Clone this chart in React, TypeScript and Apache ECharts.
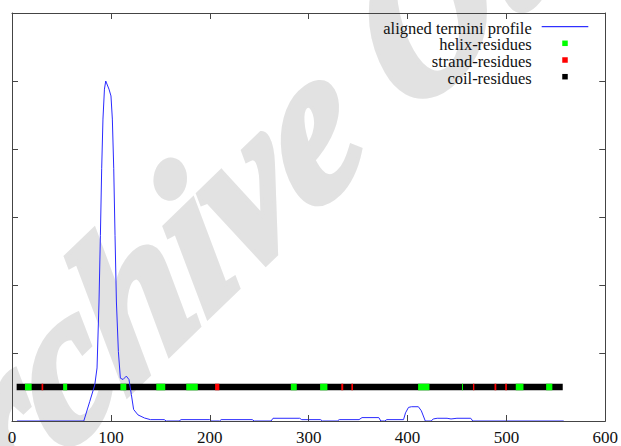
import React, { useEffect, useRef } from "react";
import * as echarts from "echarts";

// ---- data ----
const xTickInterval = 100;
const xMin = 0;
const xMax = 600;
const yMin = 0;
const yMax = 6;

const profileX = [
  5, 72.6, 78.7, 83.7, 86, 88, 89.4, 90.7, 92, 93.5, 94.8, 98.1, 100.1, 101.5, 102.9, 104.2,
  105.6, 107.6, 109.6, 112.3, 115.6, 118.3, 120.7, 123, 127.4, 134, 140, 154, 156, 169, 171,
  200, 202, 210, 211.5, 243, 245, 262, 264, 291, 293, 312, 314, 329, 331, 351, 354, 371, 373,
  377, 379, 396, 398, 401, 404, 411, 414, 418, 424, 426, 430, 440, 444, 450, 464, 466, 558,
];
const profileY = [
  0, 0, 0.29, 0.53, 0.78, 1.75, 2.73, 3.71, 4.44, 4.88, 5.0, 4.88, 4.78, 4.44, 3.71, 2.73,
  1.75, 1.02, 0.63, 0.61, 0.66, 0.61, 0.39, 0.17, 0.09, 0.044, 0.02, 0.02, 0, 0, 0.02,
  0.02, 0, 0, 0.02, 0.02, 0, 0, 0.04, 0.04, 0.02, 0.02, 0, 0, 0.02, 0.02, 0.05, 0.05, 0,
  0, 0.02, 0.02, 0.12, 0.2, 0.21, 0.21, 0.15, 0, 0, 0.03, 0.04, 0.04, 0.03, 0.04, 0.04, 0, 0,
];

const residueTrackY = 0.5;
const coilSegments = [[4.7, 557]];
const helixSegments = [
  [13.1, 19.9], [51.7, 55.8], [109.6, 115.6], [145.9, 155], [176.2, 187.9], [282, 288],
  [311.6, 319], [410.7, 422.2], [455.1, 456.1], [509.5, 517.3], [540.2, 546.5],
];
const strandSegments = [
  [29.9, 31.6], [205.4, 209.7], [333, 335], [343.2, 344.9], [466.2, 467.6], [488, 489.8],
  [498.8, 500.5],
];

const legendLabels = ["aligned termini profile", "helix-residues", "strand-residues", "coil-residues"];
const watermarkText = "Archive Ouverte";

const AXIS_COLOR = "#444";
const FONT = "Liberation Serif";

function makeTrack(name: string, segs: number[][], color: string) {
  return {
    type: "custom",
    name,
    z: 3,
    silent: true,
    data: segs.map((s) => [s[0], s[1], residueTrackY]),
    encode: { x: [0, 1], y: 2 },
    renderItem: (params: any, api: any) => {
      const p0 = api.coord([api.value(0), api.value(2)]);
      const p1 = api.coord([api.value(1), api.value(2)]);
      const h = 6.5;
      return {
        type: "rect",
        shape: { x: p0[0], y: p0[1] - h / 2, width: p1[0] - p0[0], height: h },
        style: { fill: color },
      };
    },
  };
}

export default function App() {
  const ref = useRef<HTMLDivElement>(null);

  useEffect(() => {
    if (!ref.current) return;
    const chart = echarts.init(ref.current, undefined, { renderer: "svg" });

    const baseX = {
      type: "value",
      min: xMin,
      max: xMax,
      interval: xTickInterval,
      z: 5,
      axisLine: { show: true, onZero: false, lineStyle: { color: AXIS_COLOR, width: 1 } },
      axisTick: { show: true, inside: true, length: 6, lineStyle: { color: AXIS_COLOR } },
      splitLine: { show: false },
    };
    const baseY = {
      type: "value",
      min: yMin,
      max: yMax,
      interval: 1,
      z: 5,
      axisLine: { show: true, onZero: false, lineStyle: { color: AXIS_COLOR, width: 1 } },
      axisTick: { show: true, inside: true, length: 6, lineStyle: { color: AXIS_COLOR } },
      axisLabel: { show: false },
      splitLine: { show: false },
    };

    const rowY = [28.3, 44.3, 61, 78.3];
    const textRight = 531.7;
    const iconX = 565;
    const sq = 5.5;

    const graphics: any[] = [];

    const wmAngle = (44 * Math.PI) / 180;
    graphics.push({
      type: "text",
      x: -125,
      y: 543,
      rotation: wmAngle,
      skewX: -0.25,
      z: 0,
      silent: true,
      style: {
        text: watermarkText,
        fill: "#e2e2e2",
        stroke: "#e2e2e2",
        lineWidth: 8,
        lineJoin: "round",
        fontFamily: FONT,
        fontStyle: "italic",
        fontWeight: "bold",
        fontSize: 200,
        align: "left",
        verticalAlign: "middle",
      },
    });

    legendLabels.forEach((t, i) => {
      graphics.push({
        type: "text",
        x: textRight,
        y: rowY[i],
        z: 50,
        style: {
          text: t,
          fill: "#111",
          fontFamily: FONT,
          fontSize: 16.5,
          align: "right",
          verticalAlign: "middle",
        },
      });
    });
    graphics.push({
      type: "line",
      z: 50,
      shape: { x1: 541.7, y1: 26.7, x2: 588.3, y2: 26.7 },
      style: { stroke: "#0000ff", lineWidth: 1 },
    });
    const sqColors = ["#00ff00", "#ff0000", "#000000"];
    const sqY = [43.3, 60, 76.7];
    sqColors.forEach((c, i) => {
      graphics.push({
        type: "rect",
        z: 50,
        shape: { x: iconX - sq / 2, y: sqY[i] - sq / 2, width: sq, height: sq },
        style: { fill: c },
      });
    });

    chart.setOption({
      animation: false,
      backgroundColor: "#ffffff",
      grid: { left: 12, right: 13, top: 13, bottom: 23, containLabel: false },
      xAxis: [
        {
          ...baseX,
          position: "bottom",
          axisLabel: { show: true, color: "#111", fontFamily: FONT, fontSize: 17, margin: 8 },
        },
        { ...baseX, position: "top", axisLabel: { show: false } },
      ],
      yAxis: [
        { ...baseY, position: "left" },
        { ...baseY, position: "right" },
      ],
      series: [
        makeTrack("coil-residues", coilSegments, "#000000"),
        makeTrack("helix-residues", helixSegments, "#00ff00"),
        makeTrack("strand-residues", strandSegments, "#ff0000"),
        {
          type: "line",
          name: "aligned termini profile",
          z: 4,
          data: profileX.map((x, i) => [x, profileY[i]]),
          showSymbol: false,
          symbol: "none",
          lineStyle: { color: "#2a2aff", width: 1 },
          silent: true,
        },
      ],
      graphic: graphics,
    });

    return () => chart.dispose();
  }, []);

  return (
    <div
      ref={ref}
      style={{ position: "absolute", left: 0, top: 0, width: 621, height: 446 }}
    />
  );
}
